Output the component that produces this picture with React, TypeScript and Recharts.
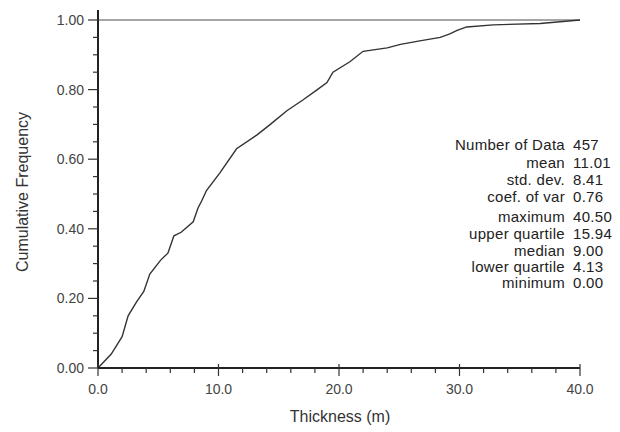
import React from 'react';
import { LineChart, Line, XAxis, YAxis, ReferenceLine } from 'recharts';

// thickness (m) vs cumulative frequency
const thickness = [0, 1.1, 2.0, 2.5, 3.2, 3.8, 4.3, 5.2, 5.8, 6.3, 6.9, 7.9, 8.3, 8.6, 9.0, 10.1, 11.5, 13.2, 14.3, 15.7, 17.0, 18.2, 19.0, 19.5, 20.9, 22.0, 24.0, 25.1, 26.7, 28.4, 29.2, 29.8, 30.6, 32.8, 36.7, 40.0];
const cumFreq = [0, 0.04, 0.09, 0.15, 0.19, 0.22, 0.27, 0.31, 0.33, 0.38, 0.39, 0.42, 0.46, 0.48, 0.51, 0.56, 0.63, 0.67, 0.70, 0.74, 0.77, 0.80, 0.82, 0.85, 0.88, 0.91, 0.92, 0.93, 0.94, 0.95, 0.96, 0.97, 0.98, 0.986, 0.99, 1.0];

const xTicks = [0, 2, 4, 6, 8, 10, 12, 14, 16, 18, 20, 22, 24, 26, 28, 30, 32, 34, 36, 38, 40];
const yTicks = [0, 0.05, 0.1, 0.15, 0.2, 0.25, 0.3, 0.35, 0.4, 0.45, 0.5, 0.55, 0.6, 0.65, 0.7, 0.75, 0.8, 0.85, 0.9, 0.95, 1.0];

const statLabels = ['Number of Data', 'mean', 'std. dev.', 'coef. of var', 'maximum', 'upper quartile', 'median', 'lower quartile', 'minimum'];
const statValues = ['457', '11.01', '8.41', '0.76', '40.50', '15.94', '9.00', '4.13', '0.00'];

const data = thickness.map((t, i) => ({ t, f: cumFreq[i] }));

const FONT = '"Liberation Sans", Arial, sans-serif';

const XTick = (props: any) => {
  const { x, y, payload } = props;
  const major = payload.value % 10 === 0;
  return (
    <g>
      <line x1={x} x2={x} y1={major ? y - 4 : y} y2={major ? y + 8 : y + 5} stroke="#333" strokeWidth={1.2} />
      {major && (
        <text x={x} y={y + 26} textAnchor="middle" fontSize={14} fill="#444" fontFamily={FONT}>
          {payload.value.toFixed(1)}
        </text>
      )}
    </g>
  );
};

const YTick = (props: any) => {
  const { x, y, payload } = props;
  const major = Math.round(payload.value * 100) % 20 === 0;
  return (
    <g>
      <line x1={major ? x - 10 : x - 5} x2={x} y1={y} y2={y} stroke="#333" strokeWidth={1.2} />
      {major && (
        <text x={x - 14} y={y + 5} textAnchor="end" fontSize={14} fill="#444" fontFamily={FONT}>
          {payload.value.toFixed(2)}
        </text>
      )}
    </g>
  );
};

const rowTops = [138, 156, 173, 190, 210, 227, 244, 260, 276];

export default function App() {
  return (
    <div style={{ position: 'absolute', left: 0, top: 0, width: 620, height: 432, background: '#fff' }}>
      <LineChart width={620} height={432} data={data} margin={{ top: 10, right: 40, bottom: 0, left: 0 }}>
        <XAxis
          dataKey="t"
          type="number"
          domain={[0, 40]}
          ticks={xTicks}
          interval={0}
          tickSize={0}
          tickMargin={0}
          tickLine={false}
          tick={<XTick />}
          height={64}
          axisLine={{ stroke: '#222', strokeWidth: 2 }}
          label={{
            content: () => (
              <text x={340} y={422} textAnchor="middle" fontSize={16} fill="#333" fontFamily={FONT}>
                Thickness (m)
              </text>
            ),
          }}
        />
        <YAxis
          type="number"
          domain={[0, 1.0287]}
          ticks={yTicks}
          interval={0}
          tickSize={0}
          tickMargin={0}
          tickLine={false}
          tick={<YTick />}
          width={98}
          allowDataOverflow
          axisLine={{ stroke: '#222', strokeWidth: 2 }}
          label={{
            content: () => (
              <text x={28} y={192} textAnchor="middle" fontSize={16} fill="#333" fontFamily={FONT} transform="rotate(-90 28 192)">
                Cumulative Frequency
              </text>
            ),
          }}
        />
        <ReferenceLine y={1} stroke="#888" strokeWidth={1.5} />
        <Line type="linear" dataKey="f" stroke="#333" strokeWidth={1.4} dot={false} isAnimationActive={false} />
      </LineChart>
      {statLabels.map((lab, i) => (
        <div key={lab} style={{ position: 'absolute', top: rowTops[i], left: 0, width: 620, height: 14, fontFamily: FONT, fontSize: 15, letterSpacing: 0.3, lineHeight: '14px', color: '#222' }}>
          <span style={{ position: 'absolute', right: 620 - 565, whiteSpace: 'nowrap' }}>{lab}</span>
          <span style={{ position: 'absolute', left: 573, whiteSpace: 'nowrap' }}>{statValues[i]}</span>
        </div>
      ))}
    </div>
  );
}
